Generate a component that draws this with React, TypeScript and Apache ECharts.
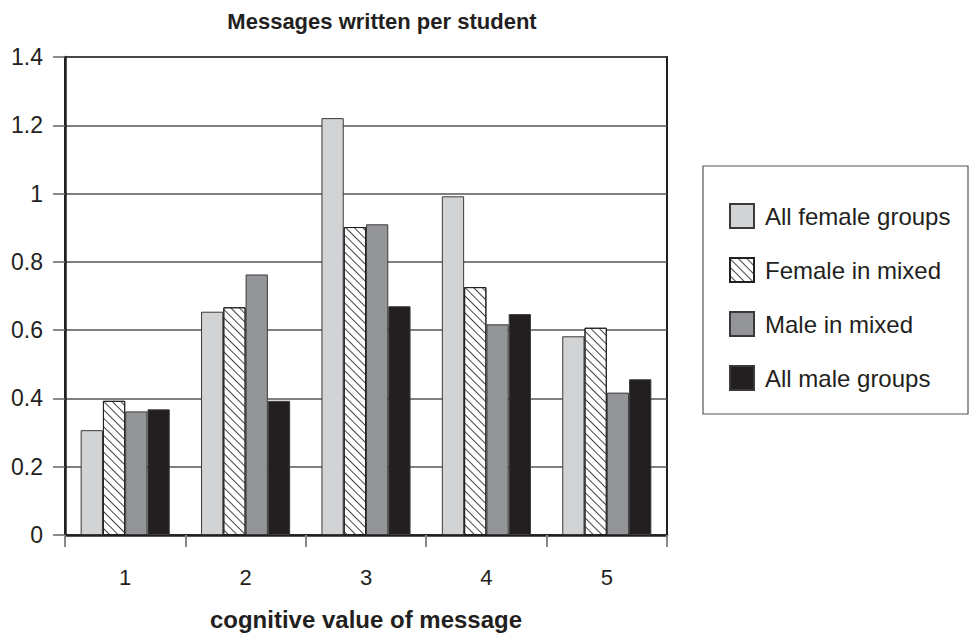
import React, { useEffect, useRef } from "react";
import * as echarts from "echarts";

const categories = ["1", "2", "3", "4", "5"];
const seriesNames = ["All female groups", "Female in mixed", "Male in mixed", "All male groups"];
const allFemale = [0.307, 0.654, 1.221, 0.992, 0.582];
const femaleMixed = [0.393, 0.667, 0.902, 0.726, 0.607];
const maleMixed = [0.362, 0.763, 0.91, 0.617, 0.417];
const allMale = [0.368, 0.393, 0.67, 0.647, 0.456];
const yTicks = { min: 0, max: 1.4, interval: 0.2 };

const FONT = "'Liberation Sans', Arial, Helvetica, sans-serif";
const INK = "#231f20";

export default function App() {
  const ref = useRef<HTMLDivElement>(null);
  useEffect(() => {
    if (!ref.current) return;
    const chart = echarts.init(ref.current, null, { renderer: "svg" });
    const border = { borderColor: "#3a3a3a", borderWidth: 1 };
    chart.setOption({
      animation: false,
      backgroundColor: "#fff",
      textStyle: { fontFamily: FONT, color: INK },
      title: {
        text: "Messages written per student",
        left: 377,
        textAlign: "center",
        top: 5,
        textStyle: { fontFamily: FONT, fontWeight: "bold", fontSize: 22, color: INK },
      },
      grid: {
        left: 65,
        right: 303,
        top: 57,
        bottom: 100,
        show: true,
        borderColor: INK,
        borderWidth: 2,
        containLabel: false,
        outerBoundsMode: "none",
      },
      legend: {
        orient: "vertical",
        left: 729,
        top: 203,
        icon: "rect",
        itemWidth: 24,
        itemHeight: 24,
        itemGap: 28,
        padding: 0,
        data: seriesNames,
        textStyle: { fontFamily: FONT, fontSize: 24, lineHeight: 26, color: INK, padding: [0, 0, 0, 6] },
      },
      graphic: [
        {
          type: "rect",
          shape: { x: 703, y: 166, width: 265, height: 248 },
          style: { fill: "none", stroke: "#555", lineWidth: 1.2 },
          z: 0,
        },
      ],
      xAxis: {
        type: "category",
        data: categories,
        name: "cognitive value of message",
        nameLocation: "middle",
        nameGap: 72,
        nameTextStyle: { fontFamily: FONT, fontWeight: "bold", fontSize: 24, color: INK },
        axisLine: { lineStyle: { color: INK, width: 2.5 } },
        axisTick: { show: true, length: 12, lineStyle: { color: "#888", width: 2 } },
        axisLabel: { fontSize: 22, color: INK, margin: 31 },
      },
      yAxis: {
        type: "value",
        min: yTicks.min,
        max: yTicks.max,
        interval: yTicks.interval,
        axisLine: { show: true, lineStyle: { color: INK, width: 2.5 } },
        axisTick: { show: true, length: 12, lineStyle: { color: "#666", width: 1.5 } },
        axisLabel: { fontSize: 23, color: INK, margin: 22 },
        splitLine: { lineStyle: { color: "#555", width: 1.5 } },
      },
      series: [
        {
          name: seriesNames[0],
          type: "bar",
          data: allFemale,
          barGap: "0%",
          barCategoryGap: "26%",
          itemStyle: { color: "#d1d3d4", ...border },
        },
        {
          name: seriesNames[1],
          type: "bar",
          data: femaleMixed,
          itemStyle: {
            color: "#ffffff",
            ...border,
            borderColor: INK,
            decal: {
              symbol: "rect",
              dashArrayX: [1, 0],
              dashArrayY: [0.8, 4.2],
              rotation: Math.PI / 4,
              color: "#444",
            },
          },
        },
        {
          name: seriesNames[2],
          type: "bar",
          data: maleMixed,
          itemStyle: { color: "#939598", ...border },
        },
        {
          name: seriesNames[3],
          type: "bar",
          data: allMale,
          itemStyle: { color: INK, ...border },
        },
      ],
    });
    return () => chart.dispose();
  }, []);
  return <div ref={ref} style={{ width: 970, height: 635, position: "absolute", left: 0, top: 0 }} />;
}
